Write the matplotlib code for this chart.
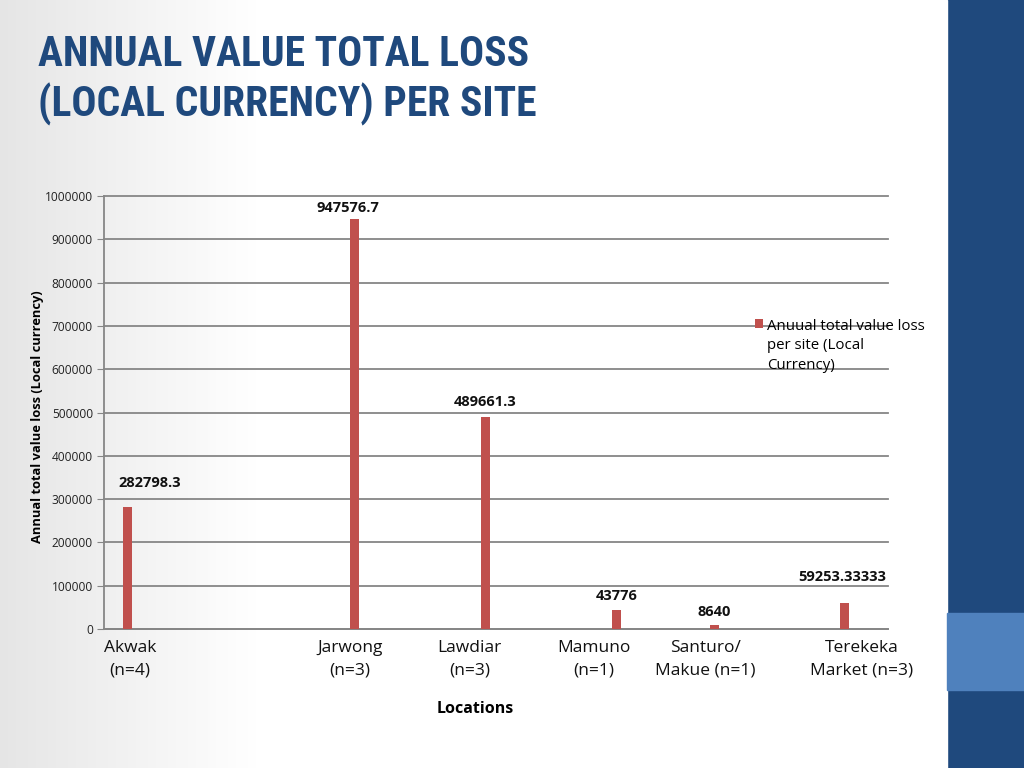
import numpy as np
import matplotlib
matplotlib.use("Agg")
import matplotlib.pyplot as plt
from matplotlib.patches import Rectangle

# ---- data ----
locations = ["Akwak\n(n=4)", "Jarwong\n(n=3)", "Lawdiar\n(n=3)", "Mamuno\n(n=1)",
             "Santuro/\nMakue (n=1)", "Terekeka\nMarket (n=3)"]
values = [282798.3, 947576.7, 489661.3, 43776, 8640, 59253.33333]
value_labels = ["282798.3", "947576.7", "489661.3", "43776", "8640", "59253.33333"]
series_name = "Anuual total value loss\nper site (Local\nCurrency)"
title_lines = ["ANNUAL VALUE TOTAL LOSS", "(LOCAL CURRENCY) PER SITE"]
y_ticks = [0, 100000, 200000, 300000, 400000, 500000, 600000, 700000, 800000, 900000, 1000000]

# ---- layout (cluster offsets within each category slot, as in the original) ----
bar_offsets = [-0.32, 0.42, 0.42, 0.42, 0.17, 0.17]
label_offsets = [-0.30, 0.38, 0.30, 0.25, 0.10, 0.30]
value_label_dx = [0.17, -0.05, 0.0, 0.0, 0.0, -0.02]
value_label_dy = [12, 3, 5.5, 4.8, 4.8, 14]

W, H = 1024, 768
fig = plt.figure(figsize=(W / 100, H / 100), dpi=100)

# background gradient (slide)
bg = fig.add_axes([0, 0, 1, 1])
grad = np.linspace(0, 1, 256)
ramp = np.clip(grad * 4.0, 0, 1)
col = 0.90 + 0.10 * ramp
img = np.dstack([col, col, col])  # shape (1, 256, 3)
bg.imshow(np.repeat(img, 2, axis=0), aspect="auto", extent=[0, 1, 0, 1])
bg.set_xlim(0, 1)
bg.set_ylim(0, 1)
bg.axis("off")
# right side bar
bg.add_patch(Rectangle((947 / W, 0), (W - 947) / W, 1, color="#1f497d", zorder=2))
bg.add_patch(Rectangle((947 / W, 1 - 690 / H), (W - 947) / W, 77 / H, color="#4f81bd", zorder=3))
bg.add_patch(Rectangle((944 / W, 0), 3 / W, 1, color="#ffffff", zorder=2))

title_font = ["Roboto Condensed", "Liberation Sans Narrow", "Roboto", "DejaVu Sans"]
for line, yb in zip(title_lines, [66, 117]):
    fig.text(38 / W, 1 - yb / H, line, fontsize=30, fontweight="bold", fontstretch="condensed",
             family=title_font, color="#1f497d", va="baseline", ha="left")

ax = fig.add_axes([104 / W, 1 - 629 / H, 784 / W, (629 - 196) / H])
ax.patch.set_alpha(0)
n = len(values)
xs = np.arange(n) + np.array(bar_offsets)
ax.bar(xs, values, width=0.069, color="#c0504d", zorder=3, label=series_name)
ax.set_xlim(-0.5, n - 0.5)
ax.set_ylim(0, 1000000)
ax.set_yticks(y_ticks)
ax.set_yticklabels([str(v) for v in y_ticks], fontsize=8.6, family="Open Sans", color="#222222")
ax.yaxis.grid(True, color="#868686", linewidth=1.3, zorder=0)
for gl in ax.get_ygridlines():
    gl.set_clip_on(False)
ax.set_axisbelow(True)
for s in ["top", "right"]:
    ax.spines[s].set_visible(False)
ax.spines["left"].set_color("#868686")
ax.spines["bottom"].set_color("#868686")
ax.spines["left"].set_linewidth(1.3)
ax.spines["bottom"].set_linewidth(1.3)
ax.tick_params(axis="y", length=5, color="#868686", pad=3)
ax.set_xticks(np.arange(n) + np.array(label_offsets))
ax.set_xticklabels(locations, fontsize=12.5, family="Open Sans", color="#111111", linespacing=1.5)
ax.tick_params(axis="x", length=0, pad=8)

for i in range(n):
    ax.annotate(value_labels[i], (xs[i] + value_label_dx[i], values[i]),
                xytext=(0, value_label_dy[i]), textcoords="offset points",
                ha="center", va="bottom", fontsize=10.5, fontweight="bold", family="Open Sans",
                color="#111111")

ax.set_ylabel("Annual total value loss (Local currency)", fontsize=9.3, fontweight="bold",
              family="Open Sans")
ax.yaxis.set_label_coords((44 - 104) / 784, (629 - 416.5) / 433)
ax.set_xlabel("Locations", fontsize=11.5, fontweight="bold", family="Open Sans")
ax.xaxis.set_label_coords((475 - 104) / 784, (629 - 701) / 433)

leg = ax.legend(loc="upper left", bbox_to_anchor=(747 / W, 1 - 311 / H), bbox_transform=fig.transFigure,
                frameon=False, prop={"family": "Open Sans", "size": 10.8},
                handlelength=0.55, handleheight=0.55, handletextpad=0.3, borderpad=0)
for column in leg._legend_handle_box.get_children():
    for item in column.get_children():
        item.align = "top"
for t in leg.get_texts():
    t.set_linespacing(1.45)

fig.savefig("out.png", dpi=100)
